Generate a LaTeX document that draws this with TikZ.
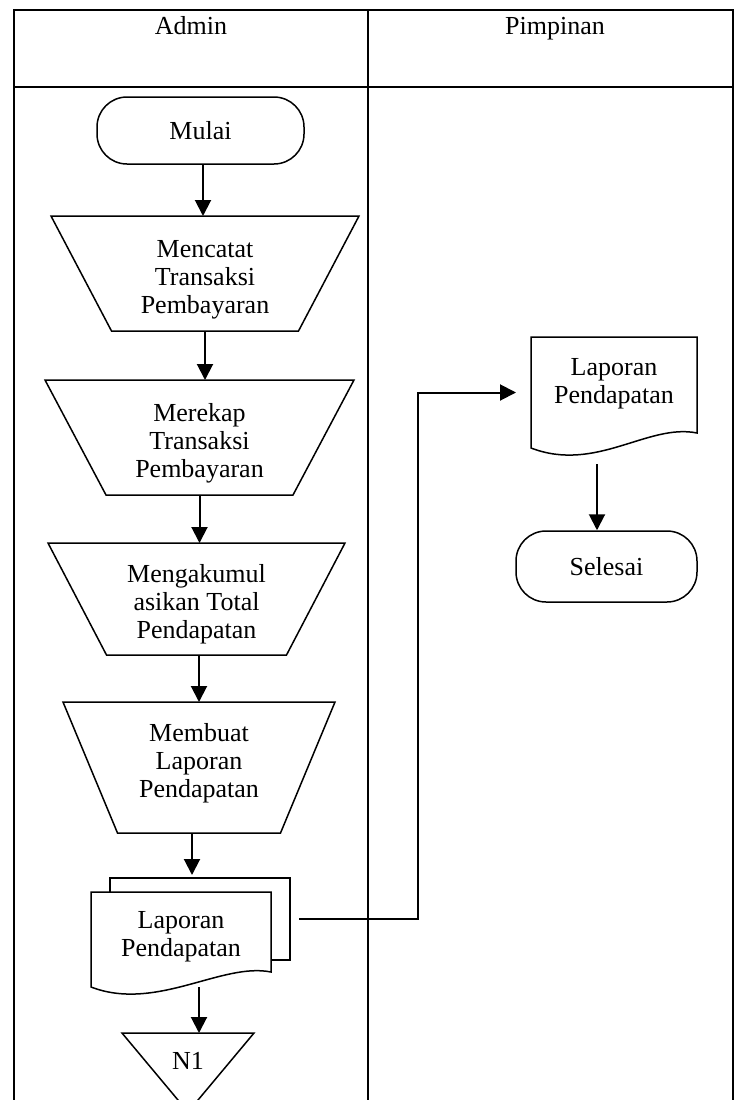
\documentclass[tikz,border=0pt]{standalone}
\usepackage{fontspec}
\setmainfont{Liberation Serif}
\usetikzlibrary{arrows.meta}

\tikzset{
    box/.style={rectangle, align=center, inner sep=0pt},
    terminal/.style={box, draw, line width=1.5pt, rounded corners=30pt},
    flow/.style={-{Triangle[length=16pt,width=16pt]}, line width=2pt},
    border/.style={line width=1.5pt},
}
\newcommand{\manopborder}[2]{%
    \draw[border] (#1.north west) -- (#1.north east) -- ([xshift=-#2pt]#1.south east) -- ([xshift=#2pt]#1.south west) -- cycle;}
\newcommand{\docborder}[1]{%
    \draw[border] (#1.south west) .. controls ([shift={(65,25)}]#1.south west) and ([shift={(-49,-25)}]#1.south east) .. ([yshift=15pt]#1.south east)
        -- (#1.north east) -- (#1.north west) -- cycle;}

\begin{document}
\begin{tikzpicture}[x=1pt, y=-1pt, line width=2pt, every node/.style={font=\fontsize{26}{28}\selectfont}]
    \useasboundingbox (0,0) rectangle (734,1100);
    \clip (0,0) rectangle (734,1100);

    \draw (14,1110) -- (14,10) -- (733,10) -- (733,1110);
    \draw (14,87) -- (733,87);
    \draw (368,10) -- (368,1110);
    \node[anchor=base] at (191,34)(admin){Admin};
    \node[anchor=base] at (555,34)(pimpinan){Pimpinan};

    \node[terminal, minimum width=207pt, minimum height=67pt] at (200.5,130.5)(mulai){Mulai};
    \node[box, minimum width=306pt, minimum height=113pt, text height=86pt] at (205,273.5)(catat){Mencatat\\Transaksi\\Pembayaran};
    \node[box, minimum width=307pt, minimum height=113pt, text height=86pt] at (199.5,437.5)(rekap){Merekap\\Transaksi\\Pembayaran};
    \node[box, minimum width=295pt, minimum height=110pt, text height=85pt] at (196.5,599)(akumulasi){Mengakumul\\asikan Total\\Pendapatan};
    \node[box, minimum width=270pt, minimum height=129pt, text depth=14pt] at (199,767.5)(buat){Membuat\\Laporan\\Pendapatan};
    \node[box, minimum width=178pt, minimum height=80pt] at (200,919)(laporanb){};
    \node[box, minimum width=178pt, minimum height=93pt, text depth=12pt] at (181,939.5)(laporan){Laporan\\Pendapatan};
    \node[box, minimum width=130pt, minimum height=77pt, text depth=23pt, anchor=north] at (188,1033)(n1){N1};

    \node[box, minimum width=164pt, minimum height=109pt, text depth=23pt] at (614,392.5)(laporanp){Laporan\\Pendapatan};
    \node[terminal, minimum width=181pt, minimum height=71pt] at (606.5,566.5)(selesai){Selesai};

    \manopborder{catat}{60.5}
    \manopborder{rekap}{61}
    \manopborder{akumulasi}{58.5}
    \manopborder{buat}{54.5}
    \draw[border] (laporanb.west |- laporan.north) -- (laporanb.north west) -- (laporanb.north east) -- (laporanb.south east) -- (laporanb.south east -| laporan.east);
    \docborder{laporan}
    \docborder{laporanp}
    \draw[border] (n1.north west) -- (n1.north east) -- (n1.south) -- cycle;

    \draw[flow] ([xshift=2.5pt]mulai.south) -- ([xshift=-2pt]catat.north);
    \draw[flow] (catat.south) -- (catat.south |- rekap.north);
    \draw[flow] (rekap.south) -- (rekap.south |- akumulasi.north);
    \draw[flow] (akumulasi.south -| buat.north) -- (buat.north);
    \draw[flow] ([xshift=-7pt]buat.south) -- ([xshift=-8pt,yshift=3pt]laporanb.north);
    \draw[flow] ([xshift=18pt]laporan.south) -- ([xshift=11pt]n1.north);
    \draw[flow] ([xshift=9pt]laporanb.east) -| ([xshift=-113pt]laporanp.west) -- ([xshift=-15pt]laporanp.west);
    \draw[flow] ([xshift=-17pt,yshift=-16pt]laporanp.south) -- ([xshift=-9.5pt]selesai.north);
\end{tikzpicture}
\end{document}
